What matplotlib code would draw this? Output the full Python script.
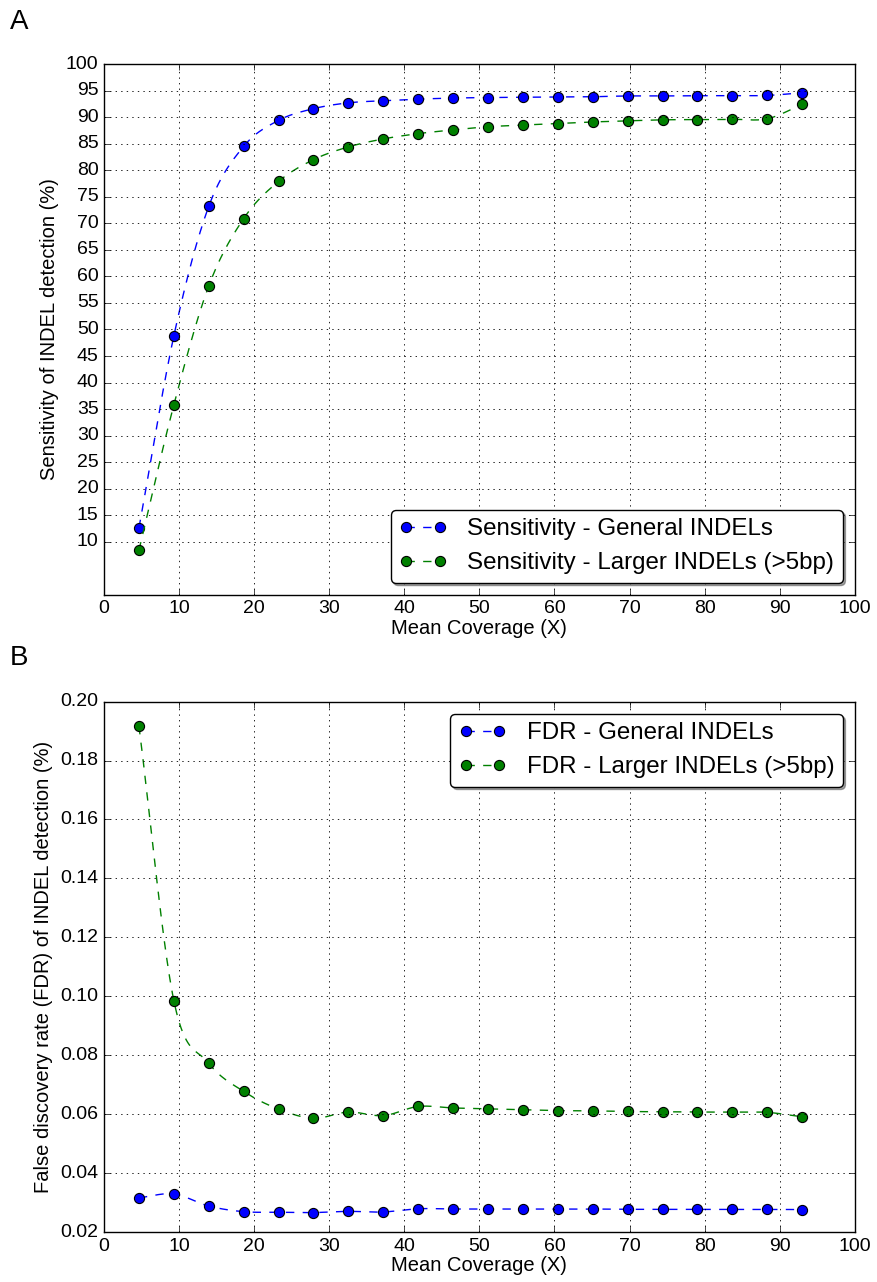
import matplotlib
matplotlib.use("Agg")
import matplotlib.pyplot as plt
import numpy as np

# mean coverage of each subsample (X)
coverage = [4.65, 9.3, 13.95, 18.6, 23.25, 27.9, 32.55, 37.2, 41.85, 46.5,
            51.15, 55.8, 60.45, 65.1, 69.75, 74.4, 79.05, 83.7, 88.35, 93.0]

sens_general = [12.6, 48.8, 73.2, 84.5, 89.4, 91.6, 92.7, 93.1, 93.4, 93.6,
                93.7, 93.75, 93.8, 93.85, 94.0, 94.0, 94.05, 94.05, 94.1, 94.6]
sens_larger = [8.4, 35.8, 58.2, 70.9, 77.9, 82.0, 84.4, 85.9, 86.9, 87.6,
               88.2, 88.5, 88.8, 89.1, 89.3, 89.5, 89.55, 89.6, 89.7, 92.4]

fdr_general = [0.0316, 0.0329, 0.0288, 0.0269, 0.0267, 0.0266, 0.0270, 0.0268, 0.0279, 0.0278,
               0.0278, 0.0278, 0.0278, 0.0278, 0.0277, 0.0277, 0.0277, 0.0277, 0.0277, 0.0276]
fdr_larger = [0.1917, 0.0985, 0.0773, 0.0677, 0.0617, 0.0586, 0.0607, 0.0595, 0.0626, 0.0621,
              0.0618, 0.0615, 0.0612, 0.0611, 0.0609, 0.0608, 0.0607, 0.0607, 0.0606, 0.0591]

plt.style.use("classic")
plt.rcParams["font.family"] = ["Liberation Sans", "DejaVu Sans"]
plt.rcParams["font.size"] = 14
plt.rcParams["xtick.labelsize"] = 14
plt.rcParams["ytick.labelsize"] = 14
plt.rcParams["axes.labelsize"] = 14.5
plt.rcParams["figure.facecolor"] = "white"
plt.rcParams["savefig.facecolor"] = "white"


def smooth_curve(x, y, n=25):
    """Catmull-Rom curve through the points, only used to draw the line."""
    x = np.asarray(x, float)
    y = np.asarray(y, float)
    px = np.concatenate([[2 * x[0] - x[1]], x, [2 * x[-1] - x[-2]]])
    py = np.concatenate([[2 * y[0] - y[1]], y, [2 * y[-1] - y[-2]]])
    t = np.linspace(0, 1, n, endpoint=False)
    xs, ys = [], []
    for i in range(1, len(px) - 2):
        for p, out in ((px, xs), (py, ys)):
            p0, p1, p2, p3 = p[i - 1], p[i], p[i + 1], p[i + 2]
            out.append(0.5 * ((2 * p1) + (-p0 + p2) * t
                              + (2 * p0 - 5 * p1 + 4 * p2 - p3) * t ** 2
                              + (-p0 + 3 * p1 - 3 * p2 + p3) * t ** 3))
    xs.append([x[-1]])
    ys.append([y[-1]])
    return np.concatenate(xs), np.concatenate(ys)


def draw_series(ax, x, y, color, label):
    sx, sy = smooth_curve(x, y)
    ax.plot(sx, sy, "--", color=color, linewidth=1)
    ax.plot(x, y, "o", color=color, markersize=7.3, markeredgecolor="black",
            markeredgewidth=0.8)
    # legend proxy
    ax.plot([], [], "--o", color=color, markersize=7.3, markeredgecolor="black",
            markeredgewidth=0.8, label=label)


fig = plt.figure(figsize=(8.78, 12.82), dpi=100)
ax1 = fig.add_axes([0.1185, 0.536, 0.855, 0.414])
ax2 = fig.add_axes([0.1185, 0.039, 0.855, 0.4137])

legend_kw = dict(numpoints=2, fancybox=True, shadow=True, fontsize=17.4,
                 handlelength=2.0, borderaxespad=0.5, labelspacing=0.5,
                 borderpad=0.35, handletextpad=0.82)

draw_series(ax1, coverage, sens_general, "blue", "Sensitivity - General INDELs")
draw_series(ax1, coverage, sens_larger, "green", "Sensitivity - Larger INDELs (>5bp)")
ax1.set_xlim(0, 100)
ax1.set_ylim(0, 100)
ax1.set_xticks(np.arange(0, 101, 10))
ax1.set_yticks(np.arange(10, 101, 5))
ax1.set_xlabel("Mean Coverage (X)", labelpad=1)
ax1.set_ylabel("Sensitivity of INDEL detection (%)")
ax1.grid(True, linestyle=":", color="black", linewidth=0.6)
ax1.legend(loc="lower right", **legend_kw)

draw_series(ax2, coverage, fdr_general, "blue", "FDR - General INDELs")
draw_series(ax2, coverage, fdr_larger, "green", "FDR - Larger INDELs (>5bp)")
ax2.set_xlim(0, 100)
ax2.set_ylim(0.02, 0.20)
ax2.set_xticks(np.arange(0, 101, 10))
ax2.set_yticks(np.arange(0.02, 0.201, 0.02))
ax2.yaxis.set_major_formatter(matplotlib.ticker.FormatStrFormatter("%.2f"))
ax2.set_xlabel("Mean Coverage (X)", labelpad=1)
ax2.set_ylabel("False discovery rate (FDR) of INDEL detection (%)")
ax2.grid(True, linestyle=":", color="black", linewidth=0.6)
ax2.legend(loc="upper right", **legend_kw)

fig.text(0.011, 0.983, "A", fontsize=20, va="center")
fig.text(0.011, 0.487, "B", fontsize=20, va="center")

fig.savefig("out.png", dpi=100)
